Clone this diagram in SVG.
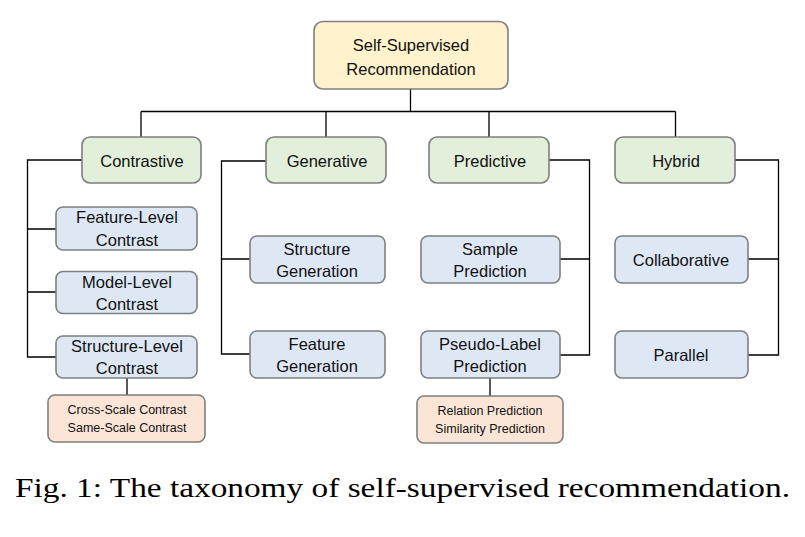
<svg xmlns="http://www.w3.org/2000/svg" width="805" height="537" viewBox="0 0 805 537">
<style>
.b{stroke:#7f7f7f;stroke-width:1.6}
.root{fill:#fff2cc}
.cat{fill:#e2efda}
.sub{fill:#dee8f5}
.leaf{fill:#fbe5d6}
text{font-family:"Liberation Sans",Arial,sans-serif;fill:#111;text-anchor:middle}
.t{font-size:16.5px}
.s{font-size:12.5px}
.cap{font-family:"Liberation Serif","Times New Roman",serif;font-size:27px;text-anchor:start;fill:#000}
#connectors path{fill:none;stroke:#000;stroke-width:1.3}
</style>
<rect width="805" height="537" fill="#fff"/>
<g id="connectors">
<path d="M410.5 89V111.5M141 111.5H675.5M141 111.5V137M326 111.5V137M489 111.5V137M675.5 111.5V137"/>
<path d="M82 160H27.5V357H56M27.5 229H56M27.5 292H56M127 378V395"/>
<path d="M266 161H221.5V354H250M221.5 259H250"/>
<path d="M549 160H589.5V355H560M560 259H589.5M490 378V396"/>
<path d="M735 160H778.5V355H748M748 259H778.5"/>
</g>
<g id="root"><rect class="b root" x="314" y="21.5" width="194" height="67.5" rx="9"/><text class="t" x="411" y="51">Self-Supervised</text><text class="t" x="411" y="75">Recommendation</text></g>
<g id="contrastive"><rect class="b cat" x="82" y="137" width="119" height="46" rx="8"/><text class="t" x="142" y="167">Contrastive</text></g>
<g id="generative"><rect class="b cat" x="266" y="137" width="120" height="46" rx="8"/><text class="t" x="327" y="167">Generative</text></g>
<g id="predictive"><rect class="b cat" x="429" y="137" width="120" height="46" rx="8"/><text class="t" x="490" y="167">Predictive</text></g>
<g id="hybrid"><rect class="b cat" x="615" y="137" width="120" height="46" rx="8"/><text class="t" x="676" y="167">Hybrid</text></g>
<g id="feature-level"><rect class="b sub" x="56" y="207" width="141" height="43" rx="7"/><text class="t" x="127" y="223">Feature-Level</text><text class="t" x="127" y="246">Contrast</text></g>
<g id="model-level"><rect class="b sub" x="56" y="271.5" width="141" height="42" rx="7"/><text class="t" x="127" y="288">Model-Level</text><text class="t" x="127" y="310">Contrast</text></g>
<g id="structure-level"><rect class="b sub" x="56" y="336" width="141" height="42" rx="7"/><text class="t" x="127" y="352">Structure-Level</text><text class="t" x="127" y="374">Contrast</text></g>
<g id="cross-scale"><rect class="b leaf" x="48" y="395" width="157" height="47" rx="7"/><text class="s" x="127" y="414">Cross-Scale Contrast</text><text class="s" x="127" y="432">Same-Scale Contrast</text></g>
<g id="structure-gen"><rect class="b sub" x="250" y="236" width="135" height="47" rx="7"/><text class="t" x="317" y="255">Structure</text><text class="t" x="317" y="277">Generation</text></g>
<g id="feature-gen"><rect class="b sub" x="250" y="331" width="135" height="47" rx="7"/><text class="t" x="317" y="350">Feature</text><text class="t" x="317" y="372">Generation</text></g>
<g id="sample-pred"><rect class="b sub" x="421" y="236" width="139" height="47" rx="7"/><text class="t" x="490" y="255">Sample</text><text class="t" x="490" y="277">Prediction</text></g>
<g id="pseudo-label"><rect class="b sub" x="421" y="331" width="139" height="47" rx="7"/><text class="t" x="490" y="350">Pseudo-Label</text><text class="t" x="490" y="372">Prediction</text></g>
<g id="relation-pred"><rect class="b leaf" x="417" y="396" width="146" height="47" rx="7"/><text class="s" x="490" y="415">Relation Prediction</text><text class="s" x="490" y="433">Similarity Prediction</text></g>
<g id="collaborative"><rect class="b sub" x="615" y="236" width="133" height="47" rx="7"/><text class="t" x="681" y="266">Collaborative</text></g>
<g id="parallel"><rect class="b sub" x="615" y="331" width="133" height="47" rx="7"/><text class="t" x="681" y="361">Parallel</text></g>
<text class="cap" x="15" y="497" textLength="775" lengthAdjust="spacingAndGlyphs">Fig. 1: The taxonomy of self-supervised recommendation.</text>
</svg>
